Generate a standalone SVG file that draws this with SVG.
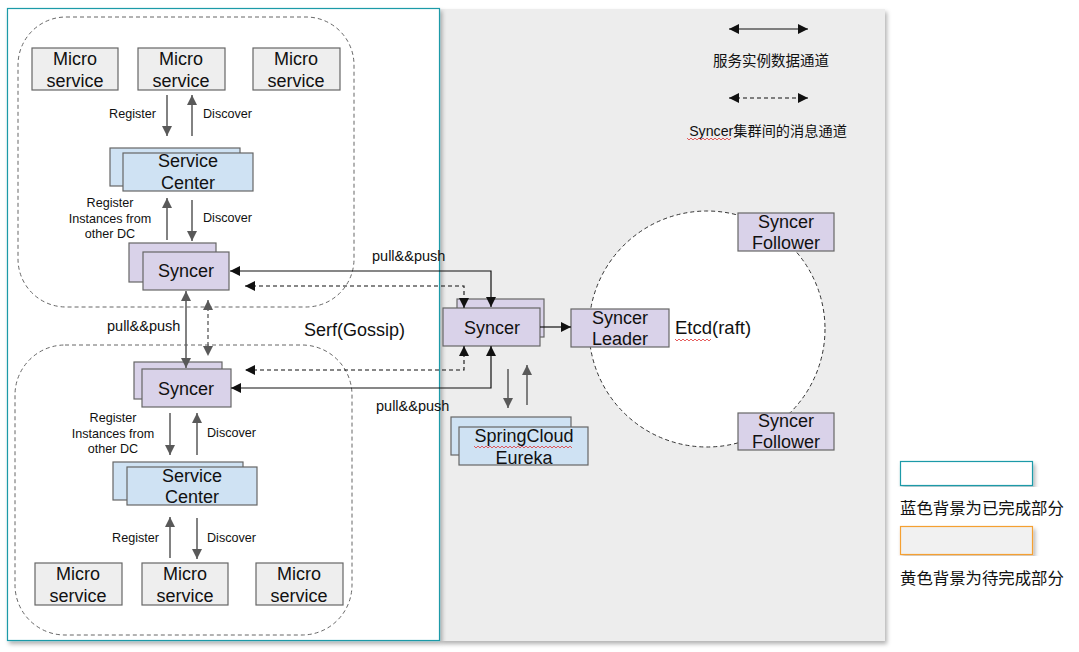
<svg xmlns="http://www.w3.org/2000/svg" width="1079" height="652" viewBox="0 0 1079 652">
  <style>
    text { font-family: "Liberation Sans", Arial, sans-serif; fill: #111; }
    .box { font-size: 18px; text-anchor: middle; }
    .lbl { font-size: 12.6px; }
    .pp { font-size: 14.5px; }
    .mid { text-anchor: middle; }
    .ms { fill: #eeeeee; stroke: #666; stroke-width: 1.2; }
    .sc { fill: #cfe2f3; stroke: #666; stroke-width: 1.2; }
    .sy { fill: #d9d2e9; stroke: #666; stroke-width: 1.2; }
    .grp { fill: none; stroke: #666; stroke-width: 1; stroke-dasharray: 4 3; }
    .ga { stroke: #595959; stroke-width: 1.5; fill: none; marker-end: url(#gh); }
    .gd { stroke: #595959; stroke-width: 1.3; fill: none; stroke-dasharray: 4 3; marker-start: url(#gh); marker-end: url(#gh); }
    .gs { stroke: #595959; stroke-width: 1.5; fill: none; marker-start: url(#gh); marker-end: url(#gh); }
    .bk { stroke: #111; stroke-width: 1.2; fill: none; marker-start: url(#bh); marker-end: url(#bh); }
    .bkd { stroke: #111; stroke-width: 1.1; fill: none; stroke-dasharray: 4 3; marker-start: url(#bh); marker-end: url(#bh); }
    .sq { fill: none; stroke: #e03535; stroke-width: 0.8; }
    .cjk { font-family: "Liberation Sans", "Noto Sans CJK SC", sans-serif; }
  </style>
  <defs>
    <marker id="gh" viewBox="0 0 10 10" refX="10" refY="5" markerWidth="10" markerHeight="10" markerUnits="userSpaceOnUse" orient="auto-start-reverse">
      <path d="M0,0 L10,5 L0,10 z" fill="#595959"/>
    </marker>
    <marker id="bh" viewBox="0 0 10 10" refX="10" refY="5" markerWidth="11" markerHeight="10" markerUnits="userSpaceOnUse" orient="auto-start-reverse">
      <path d="M0,0 L10,5 L0,10 z" fill="#111"/>
    </marker>
    <filter id="shadow" x="-5%" y="-5%" width="110%" height="110%">
      <feDropShadow dx="2" dy="3" stdDeviation="2" flood-color="#000" flood-opacity="0.3"/>
    </filter>
  </defs>

  <rect width="1079" height="652" fill="#ffffff"/>

  <!-- panels -->
  <g id="panels">
    <rect x="440" y="9" width="445" height="632" fill="#ededed" filter="url(#shadow)"/>
    <rect x="7.5" y="8.5" width="432" height="632" fill="#ffffff" stroke="#1a9aa8" stroke-width="1.2" filter="url(#shadow)"/>
  </g>

  <!-- data-center groups -->
  <g id="dc-groups">
    <rect class="grp" x="18" y="17" width="336" height="290" rx="48" ry="48"/>
    <rect class="grp" x="15" y="345" width="337" height="290" rx="50" ry="50"/>
  </g>

  <!-- raft ring -->
  <g id="etcd-ring">
    <circle cx="707" cy="329" r="118" fill="#ffffff" stroke="#333" stroke-width="1" stroke-dasharray="4 3"/>
    <text x="675" y="334" font-size="18.5">Etcd(raft)</text>
    <path class="sq" d="M675,339 l2,2 l2,-2 l2,2 l2,-2 l2,2 l2,-2 l2,2 l2,-2 l2,2 l2,-2 l2,2 l2,-2 l2,2 l2,-2 l2,2 l2,-2 l2,2 l2,-2"/>
  </g>

  <!-- top data center nodes -->
  <g id="ms-top-1"><rect class="ms" x="32" y="48" width="86" height="42"/><text class="box" x="75" y="65">Micro</text><text class="box" x="75" y="87">service</text></g>
  <g id="ms-top-2"><rect class="ms" x="138" y="48" width="87" height="42"/><text class="box" x="181" y="65">Micro</text><text class="box" x="181" y="87">service</text></g>
  <g id="ms-top-3"><rect class="ms" x="253" y="48" width="87" height="42"/><text class="box" x="296" y="65">Micro</text><text class="box" x="296" y="87">service</text></g>
  <g id="sc-top">
    <rect class="sc" x="110" y="148" width="130" height="38"/>
    <rect class="sc" x="123" y="153" width="130" height="38"/>
    <text class="box" x="188" y="167">Service</text><text class="box" x="188" y="189">Center</text>
  </g>
  <g id="syncer-top">
    <rect class="sy" x="129" y="243" width="87" height="39"/>
    <rect class="sy" x="143" y="252" width="86" height="38"/>
    <text class="box" x="186" y="277">Syncer</text>
  </g>

  <!-- bottom data center nodes -->
  <g id="syncer-bottom">
    <rect class="sy" x="134" y="362" width="88" height="37"/>
    <rect class="sy" x="142" y="369" width="89" height="38"/>
    <text class="box" x="186" y="395">Syncer</text>
  </g>
  <g id="sc-bottom">
    <rect class="sc" x="113" y="462" width="130" height="38"/>
    <rect class="sc" x="127" y="467" width="130" height="38"/>
    <text class="box" x="192" y="482">Service</text><text class="box" x="192" y="503">Center</text>
  </g>
  <g id="ms-bottom-1"><rect class="ms" x="35" y="563" width="87" height="42"/><text class="box" x="78" y="580">Micro</text><text class="box" x="78" y="602">service</text></g>
  <g id="ms-bottom-2"><rect class="ms" x="142" y="563" width="86" height="42"/><text class="box" x="185" y="580">Micro</text><text class="box" x="185" y="602">service</text></g>
  <g id="ms-bottom-3"><rect class="ms" x="256" y="563" width="87" height="42"/><text class="box" x="299" y="580">Micro</text><text class="box" x="299" y="602">service</text></g>

  <!-- central syncer cluster -->
  <g id="syncer-central">
    <rect class="sy" x="457" y="299" width="87" height="38"/>
    <rect class="sy" x="443" y="308" width="97" height="38"/>
    <text class="box" x="492" y="334">Syncer</text>
  </g>
  <g id="syncer-leader">
    <rect class="sy" x="571" y="309" width="98" height="38"/>
    <text class="box" x="620" y="324">Syncer</text><text class="box" x="620" y="345">Leader</text>
  </g>
  <g id="syncer-follower-top">
    <rect class="sy" x="738" y="213" width="96" height="38"/>
    <text class="box" x="786" y="228">Syncer</text><text class="box" x="786" y="249">Follower</text>
  </g>
  <g id="syncer-follower-bottom">
    <rect class="sy" x="738" y="413" width="96" height="37"/>
    <text class="box" x="786" y="427">Syncer</text><text class="box" x="786" y="448">Follower</text>
  </g>
  <g id="eureka">
    <rect class="sc" x="451" y="417" width="120" height="38"/>
    <rect class="sc" x="459" y="427" width="129" height="38"/>
    <text class="box" x="524" y="442">SpringCloud</text><text class="box" x="524" y="464">Eureka</text>
    <path class="sq" d="M474,446 l2,2 l2,-2 l2,2 l2,-2 l2,2 l2,-2 l2,2 l2,-2 l2,2 l2,-2 l2,2 l2,-2 l2,2 l2,-2 l2,2 l2,-2 l2,2 l2,-2 l2,2 l2,-2 l2,2 l2,-2 l2,2 l2,-2 l2,2 l2,-2 l2,2 l2,-2 l2,2 l2,-2 l2,2 l2,-2 l2,2 l2,-2 l2,2 l2,-2 l2,2 l2,-2 l2,2 l2,-2 l2,2 l2,-2 l2,2 l2,-2 l2,2 l2,-2 l2,2 l2,-2 l2,2"/>
  </g>

  <!-- connectors (drawn over the boxes so the arrowheads stay visible) -->
  <g id="connectors">
    <!-- top data center -->
    <line class="ga" x1="167" y1="95" x2="167" y2="136"/>
    <line class="ga" x1="192" y1="136" x2="192" y2="95"/>
    <line class="ga" x1="167" y1="240" x2="167" y2="198"/>
    <line class="ga" x1="192" y1="200" x2="192" y2="241"/>
    <!-- between data centers -->
    <line class="gs" x1="186" y1="291" x2="186" y2="368"/>
    <line class="gd" x1="208" y1="300" x2="208" y2="356"/>
    <!-- bottom data center -->
    <line class="ga" x1="170" y1="413" x2="170" y2="455"/>
    <line class="ga" x1="197" y1="455" x2="197" y2="413"/>
    <line class="ga" x1="170" y1="558" x2="170" y2="517"/>
    <line class="ga" x1="197" y1="518" x2="197" y2="559"/>
    <!-- to central syncer -->
    <polyline class="bk" points="230,271 491,271 491,307"/>
    <polyline class="bkd" points="245,286 464,286 464,308"/>
    <polyline class="bkd" points="464,346 464,370 245,370"/>
    <polyline class="bk" points="491,346 491,388 231,388"/>
    <!-- central syncer to leader -->
    <line x1="540" y1="327" x2="571" y2="327" stroke="#111" stroke-width="1.2" marker-end="url(#bh)"/>
    <!-- central syncer and eureka -->
    <line class="ga" x1="508" y1="369" x2="508" y2="408"/>
    <line class="ga" x1="527" y1="405" x2="527" y2="365"/>
  </g>

  <!-- connector labels -->
  <g id="connector-labels">
    <text class="lbl" x="156" y="118" text-anchor="end">Register</text>
    <text class="lbl" x="203" y="118">Discover</text>
    <text class="lbl mid" x="110" y="207">Register</text>
    <text class="lbl mid" x="110" y="223">Instances from</text>
    <text class="lbl mid" x="110" y="238">other DC</text>
    <text class="lbl" x="203" y="222">Discover</text>
    <text class="pp" x="372" y="261">pull&amp;&amp;push</text>
    <text class="pp" x="107" y="331">pull&amp;&amp;push</text>
    <text x="304" y="336" font-size="18">Serf(Gossip)</text>
    <text class="pp" x="376" y="411">pull&amp;&amp;push</text>
    <text class="lbl mid" x="113" y="422">Register</text>
    <text class="lbl mid" x="113" y="438">Instances from</text>
    <text class="lbl mid" x="113" y="453">other DC</text>
    <text class="lbl" x="207" y="437">Discover</text>
    <text class="lbl" x="159" y="542" text-anchor="end">Register</text>
    <text class="lbl" x="207" y="542">Discover</text>
  </g>

  <!-- channel legend -->
  <g id="legend-channels">
    <line class="bk" x1="729" y1="29" x2="808" y2="29"/>
    <text class="cjk mid" x="771" y="66" font-size="14.5">服务实例数据通道</text>
    <line class="bkd" x1="729" y1="98" x2="808" y2="98"/>
    <text class="cjk mid" x="768" y="136" font-size="14.2">Syncer集群间的消息通道</text>
    <path class="sq" d="M687,138 l2,2 l2,-2 l2,2 l2,-2 l2,2 l2,-2 l2,2 l2,-2 l2,2 l2,-2 l2,2 l2,-2 l2,2 l2,-2 l2,2 l2,-2 l2,2 l2,-2 l2,2 l2,-2 l2,2 l2,-2"/>
  </g>

  <!-- status legend -->
  <g id="legend-status">
    <rect x="900.5" y="461.5" width="132" height="24" fill="#ffffff" stroke="#1a9aa8" stroke-width="1.2" filter="url(#shadow)"/>
    <text class="cjk" x="900" y="514" font-size="16.4">蓝色背景为已完成部分</text>
    <rect x="900.5" y="526.5" width="132" height="28" fill="#f1f1f1" stroke="#f5a030" stroke-width="1.2" filter="url(#shadow)"/>
    <text class="cjk" x="900" y="584" font-size="16.4">黄色背景为待完成部分</text>
  </g>
</svg>
